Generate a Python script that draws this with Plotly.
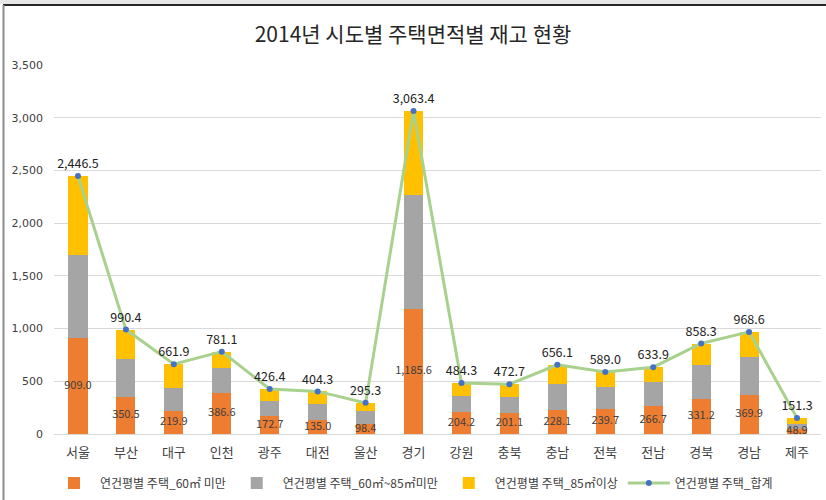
import plotly.graph_objects as go

regions = ["서울", "부산", "대구", "인천", "광주", "대전", "울산", "경기",
           "강원", "충북", "충남", "전북", "전남", "경북", "경남", "제주"]
under60 = [909.0, 350.5, 219.9, 386.6, 172.7, 135.0, 98.4, 1185.6,
           204.2, 201.1, 228.1, 239.7, 266.7, 331.2, 369.9, 48.9]
mid60_85 = [786, 358, 214, 239, 143, 150, 123, 1081,
            159, 153, 246, 206, 229, 320, 363, 49]
over85 = [751.5, 281.9, 228.0, 155.5, 110.7, 119.3, 73.9, 796.2,
          121.1, 118.6, 182.0, 143.3, 138.2, 207.1, 235.7, 53.4]
total = [2446.5, 990.4, 661.9, 781.1, 426.4, 404.3, 295.3, 3063.4,
         484.3, 472.7, 656.1, 589.0, 633.9, 858.3, 968.6, 151.3]

names = ["연건평별 주택_60㎡ 미만", "연건평별 주택_60㎡~85㎡미만",
         "연건평별 주택_85㎡이상", "연건평별 주택_합계"]
colors = ["#ED7D31", "#A5A5A5", "#FFC000", "#A9D18E"]

FONT = "Noto Sans CJK KR"
TXT = "#404040"

fig = go.Figure()
fig.add_trace(go.Bar(
    x=regions, y=under60, name=names[0], marker_color=colors[0],
    marker_line_width=0, width=0.4, hoverinfo="skip"))
fig.add_trace(go.Bar(
    x=regions, y=mid60_85, name=names[1], marker_color=colors[1],
    marker_line_width=0, width=0.4, hoverinfo="skip"))
fig.add_trace(go.Bar(
    x=regions, y=over85, name=names[2], marker_color=colors[2],
    marker_line_width=0, width=0.4, hoverinfo="skip"))
fig.add_trace(go.Scatter(
    x=regions, y=total, name=names[3], mode="lines+markers+text",
    line=dict(color=colors[3], width=3),
    marker=dict(color="#4472C4", size=6),
    text=total, texttemplate="%{y:,.1f}", textposition="top center",
    textfont=dict(color="#222222", size=12.5, family=FONT),
    hoverinfo="skip"))
# labels of the lower segment, centred in it
fig.add_trace(go.Scatter(
    x=regions, y=[v / 2 for v in under60], mode="text",
    text=under60, texttemplate="%{text:,.1f}", textposition="middle center",
    textfont=dict(color="#404040", size=11, family=FONT),
    showlegend=False, hoverinfo="skip", cliponaxis=False))

L, R, T, B = 54, 5, 65, 66
W, H = 826, 500
pw, ph = W - L - R, H - T - B

def px(xp):
    return (xp - L) / pw

def py(yp):
    return (H - B - yp) / ph

fig.update_layout(
    width=W, height=H,
    barmode="stack",
    paper_bgcolor="white", plot_bgcolor="white",
    margin=dict(l=L, r=R, t=T, b=B, autoexpand=False),
    font=dict(family=FONT, color=TXT),
    title=dict(text="2014년 시도별 주택면적별 재고 현황", x=0.5, xref="container",
               y=1 - 35 / H, yref="container", yanchor="middle", xanchor="center",
               font=dict(size=21, color="#262626", family=FONT)),
    xaxis=dict(range=[-0.5, len(regions) - 0.5], autorange=False,
               showgrid=False, showline=True, linecolor="#D9D9D9",
               linewidth=1, ticks="", tickfont=dict(size=13, color=TXT),
               ticklabelstandoff=6),
    yaxis=dict(range=[0, 3500], dtick=500, tickformat=",",
               showgrid=True, gridcolor="#D9D9D9", gridwidth=1,
               zeroline=False, showline=False, ticks="",
               tickfont=dict(size=11, color=TXT, family="DejaVu Sans"),
               ticklabelstandoff=10),
    legend=dict(orientation="h", x=px(48), xanchor="left", y=py(483),
                yanchor="middle", font=dict(size=12, color=TXT, family=FONT),
                traceorder="normal", itemwidth=42, bgcolor="rgba(0,0,0,0)"),
    showlegend=True,
    shapes=[
        dict(type="rect", xref="paper", yref="paper",
             x0=px(0), x1=px(W), y0=py(4), y1=py(0),
             fillcolor="#E6E6E6", line_width=0, layer="below"),
        dict(type="line", xref="paper", yref="paper",
             x0=px(3), x1=px(W), y0=py(5), y1=py(5),
             line=dict(color="#262626", width=2)),
        dict(type="line", xref="paper", yref="paper",
             x0=px(3.5), x1=px(3.5), y0=py(H), y1=py(5),
             line=dict(color="#8C8C8C", width=2)),
    ],
)

fig.write_html("out.html", config={"displayModeBar": False},
               post_script="document.body.style.margin='0';")
